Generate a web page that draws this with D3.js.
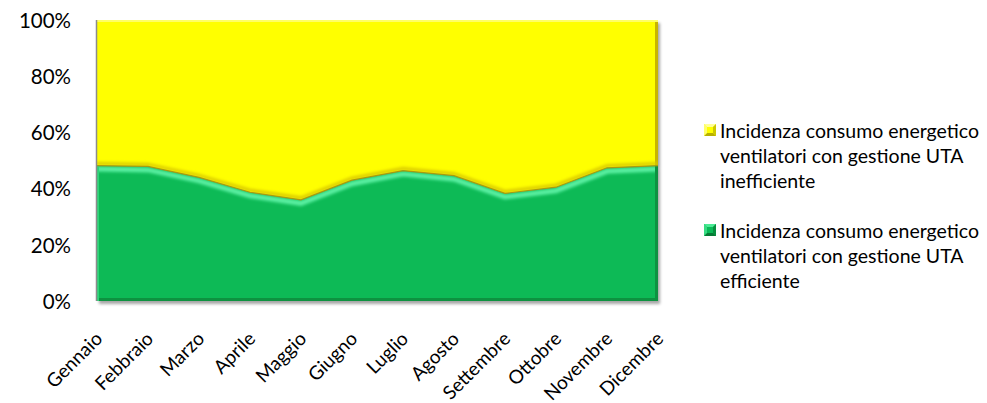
<!DOCTYPE html>
<html>
<head>
<meta charset="utf-8">
<script src="https://cdn.jsdelivr.net/npm/d3@7/dist/d3.min.js"></script>
<style>
  html, body { margin: 0; padding: 0; background: #fff; }
  svg { display: block; }
  text { font-family: Lato, "Open Sans", sans-serif; fill: #000; }
</style>
</head>
<body>
<svg id="chart" width="987" height="403"></svg>
<script>
// Months on the category axis
const months = ["Gennaio", "Febbraio", "Marzo", "Aprile", "Maggio", "Giugno",
                "Luglio", "Agosto", "Settembre", "Ottobre", "Novembre", "Dicembre"];

// Share (%) of fan energy consumption with an efficient AHU schedule
const efficiente = [48.2, 47.9, 44.0, 38.7, 36.0, 43.0, 46.4, 44.6, 38.3, 40.5, 47.4, 48.2];
// Share (%) with an inefficient AHU schedule (stacked to 100%)
const inefficiente = [51.8, 52.1, 56.0, 61.3, 64.0, 57.0, 53.6, 55.4, 61.7, 59.5, 52.6, 51.8];

const yTicks = [0, 20, 40, 60, 80, 100];

const seriesNames = [
  ["Incidenza consumo energetico", "ventilatori con gestione UTA", "inefficiente"],
  ["Incidenza consumo energetico", "ventilatori con gestione UTA", "efficiente"]
];
const colors = { yellow: "#FFFF00", green: "#0ABA57" };

const svg = d3.select("#chart");
const plotLeft = 97, plotRight = 658, plotTop = 20, plotBottom = 301;

const x = d3.scalePoint().domain(months).range([plotLeft, plotRight]);
const y = d3.scaleLinear().domain([0, 100]).range([plotBottom, plotTop]);

const rows = months.map((m, i) => ({ m, eff: efficiente[i], ineff: inefficiente[i] }));
const stack = d3.stack().keys(["eff", "ineff"])(rows);

const defs = svg.append("defs");

// soft drop shadow beneath the plotted areas
const shadow = defs.append("filter").attr("id", "shadow")
  .attr("x", "-5%").attr("y", "-5%").attr("width", "110%").attr("height", "110%");
shadow.append("feDropShadow").attr("dx", 2).attr("dy", 3).attr("stdDeviation", 1.5)
  .attr("flood-color", "#000").attr("flood-opacity", 0.35);

const blur = defs.append("filter").attr("id", "blur")
  .attr("x", "-5%").attr("y", "-20%").attr("width", "110%").attr("height", "140%");
blur.append("feGaussianBlur").attr("stdDeviation", 1.5);

const blurSmall = defs.append("filter").attr("id", "blurSmall");
blurSmall.append("feGaussianBlur").attr("stdDeviation", 0.6);

const areaGen = d3.area()
  .x(d => x(d.data.m))
  .y0(d => y(d[0]))
  .y1(d => y(d[1]));

const effArea = areaGen(stack[0]);
const ineffArea = areaGen(stack[1]);

defs.append("clipPath").attr("id", "clipGreen").append("path").attr("d", effArea);
defs.append("clipPath").attr("id", "clipYellow").append("path").attr("d", ineffArea);

const plot = svg.append("g");
const shapes = plot.append("g").attr("filter", "url(#shadow)");
shapes.append("path").attr("d", ineffArea).attr("fill", colors.yellow);
shapes.append("path").attr("d", effArea).attr("fill", colors.green);

const boundary = d3.line().x(d => x(d.data.m)).y(d => y(d[1]));

// bevel on the yellow band
const yb = plot.append("g").attr("clip-path", "url(#clipYellow)");
yb.append("rect").attr("x", plotRight - 3).attr("y", plotTop).attr("width", 3).attr("height", plotBottom - plotTop)
  .attr("fill", "#C8B400").attr("filter", "url(#blurSmall)");
yb.append("rect").attr("x", plotLeft).attr("y", plotTop).attr("width", plotRight - plotLeft).attr("height", 2)
  .attr("fill", "#FFFF66").attr("filter", "url(#blurSmall)");
yb.append("path").attr("d", boundary(stack[0]))
  .attr("transform", "translate(0,-2)")
  .attr("fill", "none").attr("stroke", "#D8C800").attr("stroke-width", 3)
  .attr("filter", "url(#blur)");

// bevel on the green band: bright rim under the top edge, darker bottom/right edges
const gb = plot.append("g").attr("clip-path", "url(#clipGreen)");
gb.append("path").attr("d", boundary(stack[0]))
  .attr("transform", "translate(0,3.5)")
  .attr("fill", "none").attr("stroke", "#5AF0A2").attr("stroke-width", 5)
  .attr("filter", "url(#blur)");
gb.append("rect").attr("x", plotLeft).attr("y", plotBottom - 3).attr("width", plotRight - plotLeft).attr("height", 3)
  .attr("fill", "#07923F").attr("filter", "url(#blurSmall)");
gb.append("rect").attr("x", plotRight - 3).attr("y", plotTop).attr("width", 3).attr("height", plotBottom - plotTop)
  .attr("fill", "#07923F").attr("filter", "url(#blurSmall)");
gb.append("rect").attr("x", plotLeft).attr("y", plotTop).attr("width", 2).attr("height", plotBottom - plotTop)
  .attr("fill", "#2FD47A").attr("filter", "url(#blurSmall)");

// thin olive line along the series boundary
plot.append("path").attr("d", boundary(stack[0]))
  .attr("fill", "none").attr("stroke", "#A89A10").attr("stroke-width", 1.2);

// left edge of the plot
plot.append("line").attr("x1", plotLeft - 0.5).attr("x2", plotLeft - 0.5).attr("y1", plotTop).attr("y2", plotBottom)
  .attr("stroke", "#8C8C8C").attr("stroke-width", 1.5);

// value axis
const yAxis = d3.axisLeft(y).tickValues(yTicks).tickFormat(d => d + "%").tickSize(0).tickPadding(0);
const yg = svg.append("g").attr("transform", "translate(71,0)").call(yAxis);
yg.select(".domain").remove();
yg.selectAll("text").style("font-size", "20.5px").attr("dy", "0.36em");

// category axis with slanted labels
const xAxis = d3.axisBottom(x).tickSize(0).tickPadding(0);
const xg = svg.append("g").attr("transform", `translate(0,${plotBottom})`).call(xAxis);
xg.select(".domain").remove();
xg.selectAll("text")
  .style("font-size", "19px")
  .attr("text-anchor", "end")
  .attr("dy", null).attr("y", null)
  .attr("transform", "translate(6,39) rotate(-45)");

// legend
const legend = svg.append("g");
const markerColors = [
  { fill: colors.yellow, dark: "#B8B000", light: "#FFFF99" },
  { fill: colors.green, dark: "#067A35", light: "#4BEA95" }
];
seriesNames.forEach((lines, i) => {
  const gy = 124 + i * 100;
  const g = legend.append("g").attr("transform", `translate(704,${gy})`);
  const c = markerColors[i];
  const s = 12;
  // pyramid-style bevelled marker
  g.append("rect").attr("width", s).attr("height", s).attr("fill", c.fill);
  g.append("polygon").attr("points", `0,0 ${s},0 ${s - 3},3 3,3`).attr("fill", c.light);
  g.append("polygon").attr("points", `0,${s} ${s},${s} ${s - 3},${s - 3} 3,${s - 3}`).attr("fill", c.dark);
  g.append("polygon").attr("points", `0,0 3,3 3,${s - 3} 0,${s}`).attr("fill", c.light).attr("opacity", 0.7);
  g.append("polygon").attr("points", `${s},0 ${s - 3},3 ${s - 3},${s - 3} ${s},${s}`).attr("fill", c.dark).attr("opacity", 0.7);
  lines.forEach((t, j) => {
    g.append("text").attr("x", 16).attr("y", 14 + j * 25)
      .style("font-size", "19.5px").text(t);
  });
});
</script>
</body>
</html>
